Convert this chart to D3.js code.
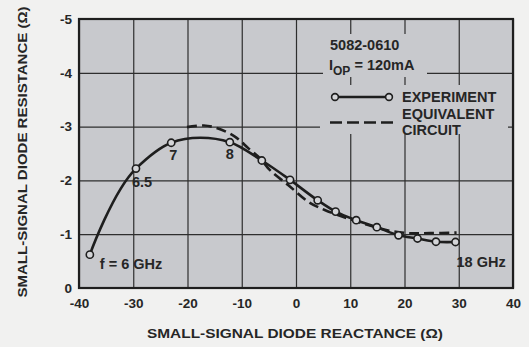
<!DOCTYPE html>
<html><head><meta charset="utf-8">
<script src="https://cdn.jsdelivr.net/npm/d3@7"></script>
<style>
html,body{margin:0;padding:0;background:#f1f1f0;}
svg{display:block;}
text{font-family:"Liberation Sans",Arial,Helvetica,sans-serif;font-weight:bold;fill:#262626;}
</style></head>
<body>
<svg id="chart" width="529" height="347"></svg>
<script>
// ---- data ----
const xTicks = [-40, -30, -20, -10, 0, 10, 20, 30, 40];
const yTicks = [0, -1, -2, -3, -4, -5];
// Experiment: reactance (ohm), resistance (ohm), frequency (GHz)
const expX = [-38.0, -29.5, -23.0, -12.2, -6.3, -1.1, 4.0, 7.3, 11.1, 14.9, 18.9, 22.4, 25.8, 29.4];
const expY = [-0.62, -2.22, -2.70, -2.71, -2.37, -2.01, -1.63, -1.42, -1.26, -1.13, -0.98, -0.92, -0.86, -0.855];
const expF = [6, 6.5, 7, 8, 9, 10, 11, 12, 13, 14, 15, 16, 17, 18];
// Equivalent circuit
const eqX = [-20.1, -17.0, -14.5, -11.2, -8.8, -6.6, -4.8, -1.4, 2.3, 5.3, 9.3, 13.0, 17.0, 20.7, 24.7, 29.6];
const eqY = [-2.99, -3.02, -2.97, -2.81, -2.60, -2.41, -2.19, -1.91, -1.60, -1.45, -1.30, -1.18, -1.07, -1.02, -1.02, -1.03];
// point labels: index into experiment series
const ptLabels = [
  {i: 0, text: "f = 6 GHz"},
  {i: 1, text: "6.5"},
  {i: 2, text: "7"},
  {i: 3, text: "8"},
  {i: 13, text: "18 GHz"}
];
const xTitle = "SMALL-SIGNAL DIODE REACTANCE (\u03A9)";
const yTitle = "SMALL-SIGNAL DIODE RESISTANCE (\u03A9)";
const legendPart = "5082-0610";
const legendExp = "EXPERIMENT";
const legendEq = ["EQUIVALENT", "CIRCUIT"];

// ---- layout ----
const L = 79, R = 513, T = 19, B = 288;
const plotBg = "#c8c9cd";
const ink = "#1e1e1e";
const fs = "14.5px";
const svg = d3.select("#chart");
const x = d3.scaleLinear().domain([-40, 40]).range([L, R]);
const y = d3.scaleLinear().domain([0, -5]).range([B, T]);

svg.append("rect").attr("x", L).attr("y", T).attr("width", R - L).attr("height", B - T).attr("fill", plotBg);

// grid
const gx = svg.append("g").attr("transform", `translate(0,${B})`)
  .call(d3.axisBottom(x).tickValues(xTicks).tickSize(-(B - T)).tickFormat(""));
const gy = svg.append("g").attr("transform", `translate(${L},0)`)
  .call(d3.axisLeft(y).tickValues(yTicks).tickSize(-(R - L)).tickFormat(""));
[gx, gy].forEach(g => {
  g.select(".domain").remove();
  g.selectAll("line").attr("stroke", "#2e2e2e").attr("stroke-width", 1.2);
});

// masks behind legend text (grid interrupted there)
svg.append("rect").attr("x", 323).attr("y", 34).attr("width", 104).attr("height", 43).attr("fill", plotBg);
svg.append("rect").attr("x", 320).attr("y", 85).attr("width", 188).attr("height", 49).attr("fill", plotBg);

// frame
svg.append("rect").attr("x", L).attr("y", T).attr("width", R - L).attr("height", B - T)
  .attr("fill", "none").attr("stroke", ink).attr("stroke-width", 2.2);

// tick labels
const ax = svg.append("g").attr("transform", `translate(0,${B})`)
  .call(d3.axisBottom(x).tickValues(xTicks).tickSize(0).tickPadding(7).tickFormat(d => String(d)));
const ay = svg.append("g").attr("transform", `translate(${L},0)`)
  .call(d3.axisLeft(y).tickValues(yTicks).tickSize(0).tickPadding(7).tickFormat(d => String(d)));
[ax, ay].forEach(g => {
  g.select(".domain").remove();
  g.selectAll("text").style("font-size", "13.5px").style("font-family", "'Liberation Sans',Arial,sans-serif")
    .style("font-weight", "bold").attr("fill", "#262626");
});
ax.selectAll("text").attr("dy", "0.95em");

// curves
const expData = expX.map((v, i) => [v, expY[i]]);
const eqData = eqX.map((v, i) => [v, eqY[i]]);
const lineExp = d3.line().x(d => x(d[0])).y(d => y(d[1])).curve(d3.curveCatmullRom.alpha(1));
const lineEq = d3.line().x(d => x(d[0])).y(d => y(d[1])).curve(d3.curveCatmullRom.alpha(0.5));

svg.append("path").attr("d", lineEq(eqData)).attr("fill", "none").attr("stroke", ink)
  .attr("stroke-width", 2.6).attr("stroke-dasharray", "10,5");
svg.append("path").attr("d", lineExp(expData)).attr("fill", "none").attr("stroke", ink)
  .attr("stroke-width", 2.6);
svg.selectAll("circle.pt").data(expData).enter().append("circle")
  .attr("cx", d => x(d[0])).attr("cy", d => y(d[1])).attr("r", 3.6)
  .attr("fill", "#d4d5d8").attr("stroke", ink).attr("stroke-width", 1.6);

// point labels
const lblOff = {0: [10, 14], 1: [-4, 18], 2: [-2, 17], 3: [-4, 17], 13: [1, 25]};
ptLabels.forEach(p => {
  const o = lblOff[p.i];
  svg.append("text").attr("x", x(expX[p.i]) + o[0]).attr("y", y(expY[p.i]) + o[1])
    .style("font-size", fs).text(p.text);
});

// legend
svg.append("text").attr("x", 330).attr("y", 50).style("font-size", fs).text(legendPart);
const iop = svg.append("text").attr("x", 329).attr("y", 70).style("font-size", fs);
iop.append("tspan").text("I");
iop.append("tspan").attr("dy", 5).style("font-size", "12px").text("OP");
iop.append("tspan").attr("dy", -5).text(" = 120mA");

const lgY1 = 97, lgY2 = 122.5;
svg.append("line").attr("x1", 335).attr("x2", 389).attr("y1", lgY1).attr("y2", lgY1)
  .attr("stroke", ink).attr("stroke-width", 2.6);
[335, 389].forEach(cx => svg.append("circle").attr("cx", cx).attr("cy", lgY1).attr("r", 3.4)
  .attr("fill", "#d4d5d8").attr("stroke", ink).attr("stroke-width", 1.6));
svg.append("text").attr("x", 402).attr("y", 102).style("font-size", fs).text(legendExp);
svg.append("line").attr("x1", 330).attr("x2", 394).attr("y1", lgY2).attr("y2", lgY2)
  .attr("stroke", ink).attr("stroke-width", 2.6).attr("stroke-dasharray", "12,5");
svg.append("text").attr("x", 402).attr("y", 119).style("font-size", fs).text(legendEq[0]);
svg.append("text").attr("x", 402).attr("y", 135).style("font-size", fs).text(legendEq[1]);

// axis titles
svg.append("text").attr("x", 295).attr("y", 338).attr("text-anchor", "middle")
  .style("font-size", "13px").attr("textLength", 296).attr("lengthAdjust", "spacingAndGlyphs").text(xTitle);
svg.append("text").attr("transform", "translate(27,152) rotate(-90)").attr("text-anchor", "middle")
  .style("font-size", "13px").attr("textLength", 291).attr("lengthAdjust", "spacingAndGlyphs").text(yTitle);
</script>
</body></html>
